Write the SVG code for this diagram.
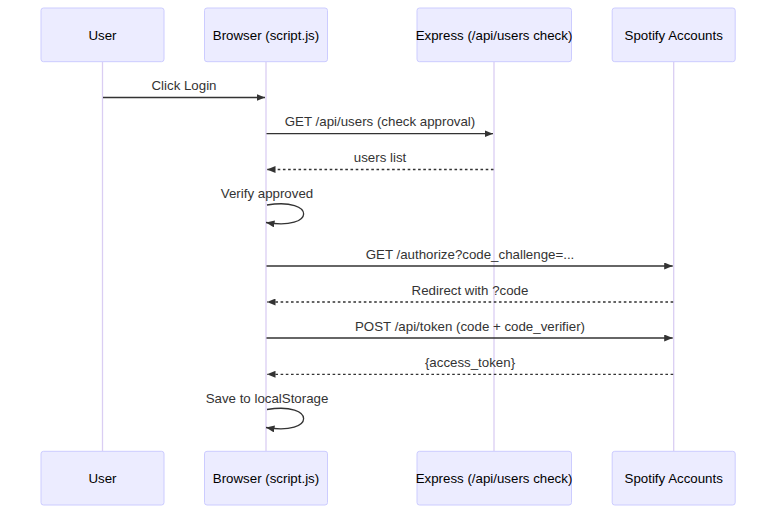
<svg xmlns="http://www.w3.org/2000/svg" width="784" height="520" viewBox="0 0 784 520">
<style>
.actor rect{fill:#ECECFF;stroke:#CCCCFF;stroke-width:1}
.actor text{font-family:"Liberation Sans",Arial,sans-serif;font-size:13.3px;fill:#000;text-anchor:middle}
.life{stroke:#DACEF3;stroke-width:1.3}
.msg{stroke:#333;stroke-width:1.3;fill:none}
.dash{stroke-dasharray:2.6,2.6}
.lbl{font-family:"Liberation Sans",Arial,sans-serif;font-size:13.3px;fill:#333;text-anchor:middle}
</style>
<defs>
<marker id="arrow" markerUnits="userSpaceOnUse" viewBox="0 0 8.5 7" refX="8.5" refY="3.5" markerWidth="8.5" markerHeight="7" orient="auto">
<path d="M0,0 L8.5,3.5 L0,7 z" fill="#333"/>
</marker>
</defs>
<rect width="784" height="520" fill="#fff"/>
<g id="lifelines">
<line class="life" x1="102.5" y1="62" x2="102.5" y2="451"/>
<line class="life" x1="266" y1="62" x2="266" y2="451"/>
<line class="life" x1="494" y1="62" x2="494" y2="451"/>
<line class="life" x1="673.7" y1="62" x2="673.7" y2="451"/>
</g>
<g id="user" class="actor">
<rect x="41" y="8" width="123" height="53.7" rx="2.5"/>
<text x="102.5" y="39.7">User</text>
<rect x="41" y="451.3" width="123" height="53.7" rx="2.5"/>
<text x="102.5" y="483">User</text>
</g>
<g id="browser" class="actor">
<rect x="204.5" y="8" width="123" height="53.7" rx="2.5"/>
<text x="266" y="39.7">Browser (script.js)</text>
<rect x="204.5" y="451.3" width="123" height="53.7" rx="2.5"/>
<text x="266" y="483">Browser (script.js)</text>
</g>
<g id="express" class="actor">
<rect x="417" y="8" width="154.5" height="53.7" rx="2.5"/>
<text x="494" y="39.7">Express (/api/users check)</text>
<rect x="417" y="451.3" width="154.5" height="53.7" rx="2.5"/>
<text x="494" y="483">Express (/api/users check)</text>
</g>
<g id="spotify" class="actor">
<rect x="612.2" y="8" width="123" height="53.7" rx="2.5"/>
<text x="673.7" y="39.7">Spotify Accounts</text>
<rect x="612.2" y="451.3" width="123" height="53.7" rx="2.5"/>
<text x="673.7" y="483">Spotify Accounts</text>
</g>
<g id="connectors">
<line class="msg" x1="103" y1="97.5" x2="265" y2="97.5" marker-end="url(#arrow)"/>
<text class="lbl" x="184" y="90">Click Login</text>
<line class="msg" x1="266.5" y1="133.7" x2="493" y2="133.7" marker-end="url(#arrow)"/>
<text class="lbl" x="380" y="126">GET /api/users (check approval)</text>
<line class="msg dash" x1="493.5" y1="169.5" x2="267" y2="169.5" marker-end="url(#arrow)"/>
<text class="lbl" x="380" y="162">users list</text>
<text class="lbl" x="267" y="198">Verify approved</text>
<path class="msg" d="M267,205 C316,197 316,231 266,222.5" marker-end="url(#arrow)"/>
<line class="msg" x1="266.5" y1="266" x2="672.7" y2="266" marker-end="url(#arrow)"/>
<text class="lbl" x="470" y="258.5">GET /authorize?code_challenge=...</text>
<line class="msg dash" x1="673.2" y1="302" x2="267" y2="302" marker-end="url(#arrow)"/>
<text class="lbl" x="470" y="294.5">Redirect with ?code</text>
<line class="msg" x1="266.5" y1="338" x2="672.7" y2="338" marker-end="url(#arrow)"/>
<text class="lbl" x="470" y="330.5">POST /api/token (code + code_verifier)</text>
<line class="msg dash" x1="673.2" y1="374.3" x2="267" y2="374.3" marker-end="url(#arrow)"/>
<text class="lbl" x="470" y="366.5">{access_token}</text>
<text class="lbl" x="267" y="403">Save to localStorage</text>
<path class="msg" d="M267,409.5 C316,401.5 316,436 266,427.5" marker-end="url(#arrow)"/>
</g>
</svg>
